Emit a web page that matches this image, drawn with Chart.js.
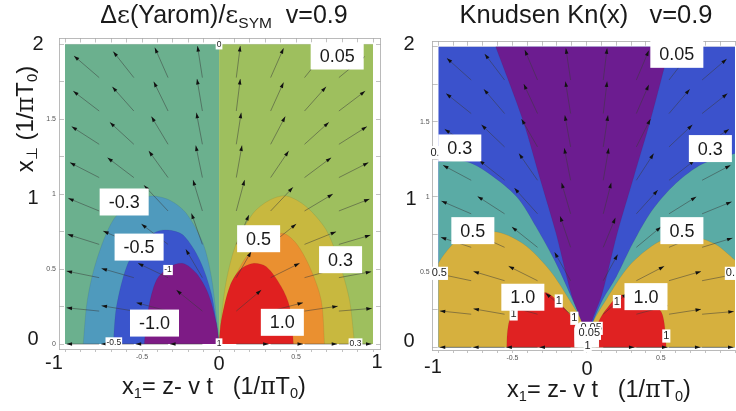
<!DOCTYPE html>
<html>
<head>
<meta charset="utf-8">
<script src="https://cdn.jsdelivr.net/npm/chart.js@4"></script>
<style>
html, body { margin: 0; padding: 0; background: #fff; }
body { position: relative; width: 736px; height: 411px; overflow: hidden; font-family: "Liberation Sans", Arial, sans-serif; color: #1a1a1a; }
#wrapA { position: absolute; left: 0; top: 0; width: 390px; height: 411px; }
#wrapB { position: absolute; left: 390px; top: 0; width: 346px; height: 411px; }
.txt { position: absolute; white-space: pre; line-height: 1; }
.txt sub { font-size: 0.62em; vertical-align: baseline; position: relative; top: 0.3em; }
.sym { font-family: "DejaVu Serif", serif; }
</style>
</head>
<body>
<div id="wrapA"><canvas id="chartA"></canvas></div>
<div id="wrapB"><canvas id="chartB"></canvas></div>
<script>
// arrow tails (same grid in both panels)
const arrowX = [-0.778, -0.553, -0.331, -0.108, 0.112, 0.335, 0.555, 0.778];
const arrowY = [1.778, 1.555, 1.333, 1.111, 0.888, 0.665, 0.443, 0.22, 0];
// arrow vectors, one row for each arrowY
const arrowDx = [
    [-0.164, -0.134, -0.086, -0.032, 0.026, 0.084, 0.136, 0.166],
    [-0.169, -0.14, -0.093, -0.035, 0.026, 0.084, 0.14, 0.171],
    [-0.179, -0.156, -0.108, -0.039, 0.032, 0.095, 0.158, 0.182],
    [-0.19, -0.171, -0.125, -0.043, 0.037, 0.117, 0.173, 0.192],
    [-0.201, -0.182, -0.156, -0.061, 0.054, 0.145, 0.184, 0.199],
    [-0.205, -0.199, -0.173, -0.071, 0.082, 0.166, 0.205, 0.205],
    [-0.212, -0.21, -0.195, -0.108, 0.097, 0.188, 0.216, 0.21],
    [-0.212, -0.21, -0.205, -0.169, 0.162, 0.21, 0.216, 0.214],
    [-0.212, -0.212, -0.21, -0.21, 0.21, 0.21, 0.212, 0.212],
];
const arrowDy = [
    [0.145, 0.174, 0.2, 0.211, 0.211, 0.196, 0.174, 0.14],
    [0.133, 0.162, 0.196, 0.214, 0.214, 0.191, 0.162, 0.133],
    [0.118, 0.147, 0.185, 0.211, 0.211, 0.185, 0.147, 0.118],
    [0.1, 0.133, 0.178, 0.214, 0.214, 0.178, 0.133, 0.1],
    [0.085, 0.116, 0.171, 0.207, 0.207, 0.158, 0.113, 0.08],
    [0.067, 0.089, 0.136, 0.207, 0.196, 0.136, 0.085, 0.062],
    [0.044, 0.062, 0.096, 0.189, 0.174, 0.096, 0.062, 0.04],
    [0.022, 0.036, 0.056, 0.14, 0.14, 0.056, 0.033, 0.018],
    [0, 0, 0, 0, 0, 0, 0, 0],
];

// left panel, contours
const yaromBgNeg = [[-1, 2], [0, 2]];
const yaromBgPos = [[0, 2], [1, 2]];
const yaromNeg03 = [[-0.882, 0], [-0.855, 0.293], [-0.795, 0.56], [-0.687, 0.828], [-0.557, 0.95], [-0.439, 0.988], [-0.32, 0.96], [-0.212, 0.872], [-0.104, 0.672], [-0.05, 0.45], [-0.017, 0.18], [0, 0]];
const yaromNeg05 = [[-0.687, 0], [-0.666, 0.25], [-0.6, 0.516], [-0.514, 0.672], [-0.406, 0.75], [-0.331, 0.761], [-0.233, 0.727], [-0.125, 0.56], [-0.05, 0.338], [-0.017, 0.138], [0, 0]];
const yaromNeg10 = [[-0.486, 0], [-0.46, 0.227], [-0.406, 0.427], [-0.32, 0.516], [-0.233, 0.538], [-0.147, 0.472], [-0.071, 0.338], [-0.017, 0.138], [0, 0]];
const yaromPos03 = [[0, 0], [0.015, 0.18], [0.048, 0.427], [0.112, 0.672], [0.22, 0.872], [0.329, 0.961], [0.437, 0.988], [0.566, 0.917], [0.696, 0.761], [0.782, 0.538], [0.847, 0.294], [0.88, 0]];
const yaromPos05 = [[0, 0], [0.015, 0.138], [0.069, 0.36], [0.177, 0.583], [0.307, 0.705], [0.415, 0.739], [0.501, 0.672], [0.588, 0.516], [0.663, 0.294], [0.685, 0]];
const yaromPos10 = [[0, 0], [0.015, 0.16], [0.069, 0.383], [0.134, 0.494], [0.22, 0.538], [0.307, 0.516], [0.404, 0.383], [0.458, 0.249], [0.484, 0]];

// right panel, contours
const knBg = [[-1, 2], [1, 2]];
const knTealL = [[-1, 1.235], [-0.81, 1.235], [-0.66, 1.157], [-0.47, 1.0], [-0.34, 0.8], [-0.206, 0.558], [-0.094, 0.315], [-0.027, 0.16], [0, 0]];
const knTealR = [[0, 0], [0.04, 0.16], [0.107, 0.315], [0.2, 0.47], [0.31, 0.69], [0.44, 0.91], [0.6, 1.09], [0.78, 1.22], [1, 1.29]];
const knGoldL = [[-1, 0.559], [-0.955, 0.625], [-0.877, 0.703], [-0.63, 0.77], [-0.43, 0.69], [-0.25, 0.514], [-0.116, 0.315], [-0.027, 0.16], [0, 0]];
const knGoldR = [[0, 0], [0.04, 0.16], [0.13, 0.315], [0.285, 0.54], [0.465, 0.69], [0.64, 0.75], [0.86, 0.69], [1, 0.58]];
const knRedL = [[-0.54, 0], [-0.535, 0.09], [-0.52, 0.18], [-0.48, 0.25], [-0.284, 0.364], [-0.183, 0.293], [-0.083, 0.17], [-0.06, 0]];
const knRedR = [[0.06, 0], [0.074, 0.15], [0.13, 0.25], [0.24, 0.35], [0.49, 0.25], [0.52, 0.18], [0.537, 0]];
const knPurple = [[-0.613, 2], [-0.43, 1.512], [-0.318, 1.135], [-0.206, 0.758], [-0.105, 0.359], [-0.038, 0.182], [0, 0.08], [0.038, 0.182], [0.105, 0.359], [0.206, 0.758], [0.318, 1.135], [0.43, 1.512], [0.56, 2]];
const knHole = [[-0.083, 0], [-0.085, 0.13], [-0.06, 0.16], [0.06, 0.16], [0.085, 0.13], [0.085, 0]];

// value labels in white boxes: text, x, y
const yaromLabels = [['0.05', 0.767, 1.922], ['-0.3', -0.616, 0.948], ['-0.5', -0.519, 0.647], ['0.5', 0.257, 0.703], ['0.3', 0.789, 0.563], ['-1.0', -0.419, 0.14], ['1.0', 0.411, 0.145]];
const yaromSmallLabels = [['-1', -0.331, 0.494], ['0', 0, 2], ['1', 0, 0.004], ['-0.5', -0.683, 0.011], ['0.3', 0.886, 0.004]];
const knLabels = [['0.05', 0.608, 1.949], ['0.3', -0.855, 1.326], ['0.3', 0.834, 1.322], ['0.5', -0.767, 0.776], ['0.5', 0.642, 0.776], ['1.0', -0.43, 0.333], ['1.0', 0.4, 0.337]];
const knSmallLabels = [['1', -0.188, 0.308], ['1', -0.492, 0.222], ['1', -0.083, 0.193], ['1', 0.204, 0.304], ['1', 0.537, 0.075], ['0.05', 0.03, 0.126], ['0.05', 0.018, 0.093], ['1', 0.007, 0.009], ['0.5', -0.993, 0.492], ['0.', 0.969, 0.492], ['0.', -1.022, 1.295]];

// axis ticks
const xTicks = [-1, -0.9, -0.8, -0.7, -0.6, -0.5, -0.4, -0.3, -0.2, -0.1, 0, 0.1, 0.2, 0.3, 0.4, 0.5, 0.6, 0.7, 0.8, 0.9, 1];
const yTicks = [0, 0.25, 0.5, 0.75, 1, 1.25, 1.5, 1.75, 2];
const xTickLabelsA = [-0.5, 0.5];
const yTickLabelsA = [0, 0.5, 1, 1.5];
const xTickLabelsB = [-0.5, 0.5];
const yTickLabelsB = [0.5, 1, 1.5];
const bigTicksX = ['-1', '0', '1'];
const bigTicksY = ['2', '1', '0'];

const SANS = '"Liberation Sans", Arial, sans-serif';

function region(points, color, fillTo) {
    return {
        data: points.map(p => ({ x: p[0], y: p[1] })),
        showLine: true,
        tension: points.length > 2 ? 0.3 : 0,
        borderColor: 'rgba(40,40,40,0.15)',
        borderWidth: 0.6,
        pointRadius: 0,
        backgroundColor: color,
        fill: { value: fillTo },
    };
}

// arrows and contour labels go through the chart scales
const overlayPlugin = {
    id: 'overlay',
    afterDatasetsDraw(chart, args, opts) {
        const ctx = chart.ctx;
        const sx = chart.scales.x;
        const sy = chart.scales.y;
        ctx.save();
        arrowY.forEach((ty, r) => {
            arrowX.forEach((tx, c) => {
                const x0 = sx.getPixelForValue(tx);
                const y0 = sy.getPixelForValue(ty);
                const x1 = sx.getPixelForValue(tx + arrowDx[r][c]);
                const y1 = sy.getPixelForValue(ty + arrowDy[r][c]);
                const a = Math.atan2(y1 - y0, x1 - x0);
                ctx.strokeStyle = '#3a3a3a';
                ctx.lineWidth = 0.5;
                ctx.beginPath();
                ctx.moveTo(x0, y0);
                ctx.lineTo(x1, y1);
                ctx.stroke();
                ctx.fillStyle = '#111';
                ctx.beginPath();
                ctx.moveTo(x1, y1);
                ctx.lineTo(x1 - 5.5 * Math.cos(a) + 1.8 * Math.sin(a), y1 - 5.5 * Math.sin(a) - 1.8 * Math.cos(a));
                ctx.lineTo(x1 - 5.5 * Math.cos(a) - 1.8 * Math.sin(a), y1 - 5.5 * Math.sin(a) + 1.8 * Math.cos(a));
                ctx.closePath();
                ctx.fill();
            });
        });
        ctx.textAlign = 'center';
        ctx.textBaseline = 'middle';
        opts.small.forEach(l => {
            const x = sx.getPixelForValue(l[1]);
            const y = sy.getPixelForValue(l[2]);
            ctx.font = opts.smallSize + 'px ' + SANS;
            const w = ctx.measureText(l[0]).width + 2;
            ctx.fillStyle = '#fff';
            ctx.fillRect(x - w / 2, y - opts.smallSize * 0.6, w, opts.smallSize * 1.2);
            ctx.fillStyle = '#222';
            ctx.fillText(l[0], x, y);
        });
        opts.big.forEach(l => {
            const x = sx.getPixelForValue(l[1]);
            const y = sy.getPixelForValue(l[2]);
            ctx.font = '18px ' + SANS;
            const w = ctx.measureText(l[0]).width + 18;
            ctx.fillStyle = '#fff';
            ctx.fillRect(x - w / 2, y - 13.5, w, 27);
            ctx.fillStyle = '#1a1a1a';
            ctx.fillText(l[0], x, y + 1);
        });
        ctx.restore();
    },
};

function axis(range, position, ticks, labels, size, tickLen, pad) {
    const horizontal = position === 'top' || position === 'bottom';
    return {
        type: 'linear',
        position: position,
        min: range[0],
        max: range[1],
        afterBuildTicks: a => { a.ticks = ticks.map(v => ({ value: v })); },
        afterFit: s => { if (horizontal) s.height = size; else s.width = size; },
        ticks: {
            display: labels.length > 0,
            autoSkip: false,
            maxRotation: 0,
            padding: pad,
            color: '#555',
            font: { size: 7, family: SANS },
            callback: v => (labels.includes(v) ? String(v) : ''),
        },
        grid: { drawOnChartArea: false, tickLength: tickLen, color: '#a8a8a8', lineWidth: 0.7 },
        border: { display: true, color: '#a8a8a8', width: 0.8 },
    };
}

function makeChart(id, datasets, xRange, yRange, padding, extra, big, small, smallSize, xLabels, yLabels) {
    const scales = {
        x: axis(xRange, 'bottom', xTicks, xLabels, 14, 3, 1),
        y: axis(yRange, 'left', yTicks, yLabels, 20, -5, 8),
        xTop: axis(xRange, 'top', xTicks, [], 0, -4, 0),
    };
    if (extra) scales.yRight = axis(yRange, 'right', yTicks, [], 0, -4, 0);
    new Chart(document.getElementById(id), {
        type: 'scatter',
        data: { datasets: datasets.reverse() },
        options: {
            responsive: true,
            maintainAspectRatio: false,
            animation: false,
            layout: { padding: padding },
            plugins: {
                legend: { display: false },
                tooltip: { enabled: false },
                overlay: { big: big, small: small, smallSize: smallSize },
            },
            scales: scales,
        },
        plugins: [overlayPlugin],
    });
}

makeChart('chartA', [
    region(yaromBgNeg, '#6bb08e', 0),
    region(yaromBgPos, '#9ebf5e', 0),
    region(yaromNeg03, '#4f9abd', 0),
    region(yaromNeg05, '#3a55cc', 0),
    region(yaromNeg10, '#7d1b85', 0),
    region(yaromPos03, '#c8b83f', 0),
    region(yaromPos05, '#ea9030', 0),
    region(yaromPos10, '#e02020', 0),
], [-1.039, 1.045], [-0.033, 2.039], { left: 39, top: 38.5, right: 10, bottom: 48 }, true, yaromLabels, yaromSmallLabels, 8.5, xTickLabelsA, yTickLabelsA);

makeChart('chartB', [
    region(knBg, '#3b52cc', 0),
    region(knTealL, '#5aaba5', 0),
    region(knTealR, '#5aaba5', 0),
    region(knGoldL, '#d6b03e', 0),
    region(knGoldR, '#d6b03e', 0),
    region(knRedL, '#e02222', 0),
    region(knRedR, '#e02222', 0),
    region(knPurple, '#6c1c90', 2),
    region(knHole, '#ffffff', 0),
], [-1.0376, 1], [-0.018, 2.033], { left: 22.7, top: 41.7, right: 0, bottom: 47 }, false, knLabels, knSmallLabels, 11, xTickLabelsB, yTickLabelsB);

// pasted-on slide text: titles, axis titles and the large tick numbers
function put(html, x, y, size, rotate) {
    const el = document.createElement('div');
    el.className = 'txt';
    el.innerHTML = html;
    el.style.left = x + 'px';
    el.style.top = y + 'px';
    el.style.fontSize = size + 'px';
    el.style.transform = 'translate(-50%,-50%)' + (rotate ? ' rotate(-90deg)' : '');
    document.body.appendChild(el);
}

put('Δ<span class="sym">ε</span>(Yarom)/<span class="sym">ε</span><sub>SYM</sub>  v=0.9', 224, 14, 25);
put('Knudsen Kn(x)   v=0.9', 586, 15, 25.5);
const xTitle = 'x<sub>1</sub>= z- v t   (1/<span class="sym">π</span>T<sub>0</sub>)';
put(xTitle, 214, 387, 23.5);
put(xTitle, 599, 390, 23.5);
put('x<sub>⊥</sub> (1/<span class="sym">π</span>T<sub>0</sub>)', 25, 119, 24, true);

[[54, 362], [219, 363], [377, 361]].forEach((p, i) => put(bigTicksX[i], p[0], p[1], 20));
[[38, 43], [33, 197], [33, 338]].forEach((p, i) => put(bigTicksY[i], p[0], p[1], 20));
[[433, 366], [587, 368]].forEach((p, i) => put(bigTicksX[i], p[0], p[1], 20));
[[409, 43], [411, 198], [409, 340]].forEach((p, i) => put(bigTicksY[i], p[0], p[1], 20));
</script>
</body>
</html>
